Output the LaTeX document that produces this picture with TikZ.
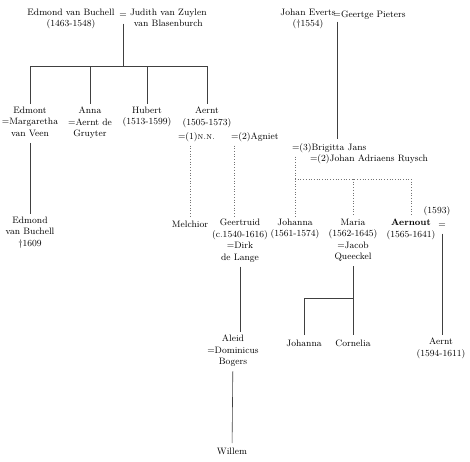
\documentclass[tikz,border=0pt]{standalone}
\begin{document}
\begin{tikzpicture}[x=1pt, y=-1pt,
    person/.style={align=center, inner sep=0pt, outer sep=3pt, anchor=north,
        font=\fontsize{9.3}{11.5}\selectfont,
        execute at begin node=\strut, execute at end node=\strut},
    link/.style={line width=0.6pt, black!75},
    dotlink/.style={line width=0.7pt, black!55, dotted}
]
    \useasboundingbox (0,0) rectangle (470,461);

    % van Buchell couple and children
    \node[person] (evb) at (71, 6) {Edmond van Buchell\\(1463-1548)};
    \node[person] (eqa) at (123, 6) {=};
    \node[person, anchor=north west] (judith) at (127, 6) {Judith van Zuylen\\van Blasenburch};
    \coordinate (bar) at (0, 66);

    \node[person] (edmont) at (30, 104) {Edmont\\=Margaretha\\van Veen};
    \node[person] (anna) at (90, 104) {Anna\\=Aernt de\\Gruyter};
    \node[person] (hubert) at (147, 104) {Hubert\\(1513-1599)};
    \node[person] (aernt) at (207, 104) {Aernt\\(1505-1573)};
    \node[person, anchor=north west] (nn) at (175, 128) {=(1)\textsc{n.n.}};
    \node[person, anchor=north west] (agniet) at (228, 128) {=(2)Agniet};

    \draw[link] (eqa.south) -- (eqa.south |- bar);
    \draw[link] (edmont.north |- bar) -- (aernt.north |- bar);
    \foreach \c in {edmont, anna, hubert, aernt}
        \draw[link] (\c.north |- bar) -- (\c.north);

    % grandchildren
    \node[person] (edmond) at (30, 214) {Edmond\\van Buchell\\\textdagger1609};
    \node[person] (melchior) at (190, 216) {Melchior};
    \node[person] (geertruid) at (240, 216) {Geertruid\\(c.1540-1616)\\=Dirk\\de Lange};

    \draw[link] (edmont) -- (edmond);
    \draw[dotlink] (melchior.north |- nn.south) -- (melchior.north);
    \draw[dotlink] ([xshift=6pt]agniet.south west) -- ([xshift=6pt]agniet.south west |- geertruid.north);

    % Everts couple
    \node[person] (jev) at (308, 6) {Johan Everts\\(\textdagger1554)};
    \node[person, outer sep=1pt] (eqb) at (337, 8) {=};
    \node[person, anchor=north west] (geertge) at (338, 6) {Geertge Pieters};
    \node[person, anchor=north west] (brigitta) at (289, 139) {=(3)Brigitta Jans};
    \node[person, anchor=north west] (ruysch) at (307, 150) {=(2)Johan Adriaens Ruysch};
    \coordinate (sib) at (0, 179);

    \node[person] (johanna) at (295, 216) {Johanna\\(1561-1574)};
    \node[person] (maria) at (353, 216) {Maria\\(1562-1645)\\=Jacob\\Queeckel};
    \node[person] (aernout) at (411, 216) {\textbf{Aernout}\\(1565-1641)};
    \node[person] (eqc) at (442, 216) {=};
    \node[person] (wed) at (437, 202) {(1593)};

    \draw[link] (eqb.south) -- (eqb.south |- brigitta.north);
    \draw[dotlink] (johanna.north |- brigitta.south) -- (johanna.north);
    \draw[dotlink] (johanna.north |- sib) -- (aernout.north |- sib);
    \foreach \c in {maria, aernout}
        \draw[dotlink] (\c.north |- sib) -- (\c.north);

    % next generation
    \node[person] (aleid) at (233, 332) {Aleid\\=Dominicus\\Bogers};
    \node[person] (johanna2) at (304, 335) {Johanna};
    \node[person] (cornelia) at (353, 335) {Cornelia};
    \node[person] (aernt2) at (441, 335) {Aernt\\(1594-1611)};
    \node[person] (willem) at (232, 443) {Willem};
    \coordinate (kids) at (0, 298);

    \draw[link] (geertruid.south) -- (geertruid.south |- aleid.north);
    \draw[link] (maria.south) -- (cornelia.north);
    \draw[link] (johanna2.north) |- (cornelia.north |- kids);
    \draw[link] (eqc.south) -- (eqc.south |- aernt2.north);
    \draw[link] (aleid) -- (willem);
\end{tikzpicture}
\end{document}
